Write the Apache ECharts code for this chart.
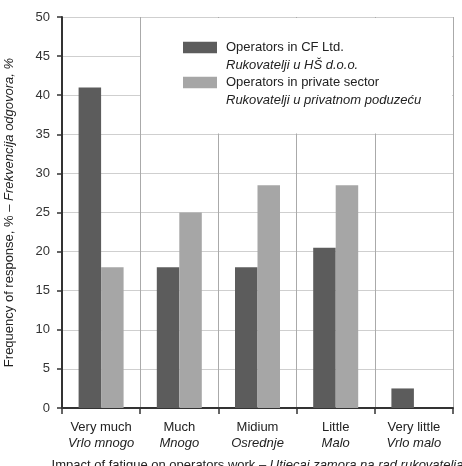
<!DOCTYPE html>
<html>
<head>
<meta charset="utf-8">
<script src="https://cdn.jsdelivr.net/npm/echarts@6/dist/echarts.min.js"></script>
<style>
  html, body { margin: 0; padding: 0; background: #fff; }
  #chart { width: 462px; height: 466px; }
</style>
</head>
<body>
<div id="chart"></div>
<script>
// categories (English / Croatian)
var categoriesEn = ['Very much', 'Much', 'Midium', 'Little', 'Very little'];
var categoriesHr = ['Vrlo mnogo', 'Mnogo', 'Osrednje', 'Malo', 'Vrlo malo'];

var seriesNames = ['Operators in CF Ltd.', 'Operators in private sector'];
var seriesNamesHr = ['Rukovatelji u HŠ d.o.o.', 'Rukovatelji u privatnom poduzeću'];

var cfLtd = [41, 18, 18, 20.5, 2.5];
var privateSector = [18, 25, 28.5, 28.5, 0];

var yTicks = { min: 0, max: 50, interval: 5 };

var FONT = '"Liberation Sans", Arial, sans-serif';

var myChart = echarts.init(document.getElementById('chart'));

// legend icon: swatch at top of a two-line box
var legendIcon = 'path://M0,0L1,0L0,0Z M0,2.75H34V14.25H0Z M38,35L37,35L38,35Z';

option = {
    backgroundColor: '#fff',
    textStyle: { fontFamily: FONT },
    grid: { left: 62, right: 9, top: 17, bottom: 58, outerBoundsMode: 'none', containLabel: false },
    legend: {
        orient: 'vertical',
        left: 183,
        top: 39,
        padding: 0,
        itemGap: 0,
        itemWidth: 38,
        itemHeight: 35,
        icon: legendIcon,
        data: seriesNames,
        formatter: function (name) {
            var i = seriesNames.indexOf(name);
            return '{a|' + name + '}\n{b|' + seriesNamesHr[i] + '}';
        },
        textStyle: {
            rich: {
                a: { fontSize: 13, lineHeight: 17.5, color: '#222', fontFamily: FONT },
                b: { fontSize: 13, lineHeight: 17.5, color: '#222', fontStyle: 'italic', fontFamily: FONT }
            }
        }
    },
    graphic: [{
        type: 'rect',
        z: 1,
        shape: { x: 141, y: 18, width: 311, height: 115.5 },
        style: { fill: '#fff' }
    }],
    xAxis: {
        type: 'category',
        data: categoriesEn,
        axisLine: { lineStyle: { color: '#333', width: 2 } },
        axisTick: { show: true, interval: 0, length: 6, lineStyle: { color: '#333', width: 1.5 } },
        splitLine: { show: true, interval: 0, lineStyle: { color: '#aaa', width: 1 } },
        axisLabel: {
            interval: 0,
            margin: 11,
            formatter: function (v, i) {
                return '{a|' + v + '}\n{b|' + categoriesHr[i] + '}';
            },
            rich: {
                a: { fontSize: 13, lineHeight: 16, color: '#222', fontFamily: FONT },
                b: { fontSize: 13, lineHeight: 16, color: '#222', fontStyle: 'italic', fontFamily: FONT }
            }
        },
        name: '{a|Impact of fatigue on operators work – }{b|Utjecaj zamora na rad rukovatelja}',
        nameLocation: 'middle',
        nameGap: 51,
        nameTextStyle: {
            rich: {
                a: { fontSize: 13, color: '#222', fontFamily: FONT },
                b: { fontSize: 13, color: '#222', fontStyle: 'italic', fontFamily: FONT }
            }
        }
    },
    yAxis: {
        type: 'value',
        min: yTicks.min,
        max: yTicks.max,
        interval: yTicks.interval,
        axisLine: { show: true, lineStyle: { color: '#333', width: 2 } },
        axisTick: { show: true, length: 5, lineStyle: { color: '#333', width: 1.5 } },
        splitLine: { show: true, lineStyle: { color: '#cfcfcf', width: 1 } },
        axisLabel: { fontSize: 13, color: '#333', margin: 12, fontFamily: FONT },
        name: '{a|Frequency of response, % – }{b|Frekvencija odgovora, %}',
        nameLocation: 'middle',
        nameGap: 46,
        nameTextStyle: {
            rich: {
                a: { fontSize: 13, color: '#222', fontFamily: FONT },
                b: { fontSize: 13, color: '#222', fontStyle: 'italic', fontFamily: FONT }
            }
        }
    },
    series: [{
        name: seriesNames[0],
        type: 'bar',
        data: cfLtd,
        barWidth: 22.5,
        barGap: '0%',
        z: 3,
        itemStyle: { color: '#5c5c5c' }
    }, {
        name: seriesNames[1],
        type: 'bar',
        data: privateSector,
        barWidth: 22.5,
        barGap: '0%',
        z: 3,
        itemStyle: { color: '#a6a6a6' }
    }]
};

myChart.setOption(option);
</script>
</body>
</html>
